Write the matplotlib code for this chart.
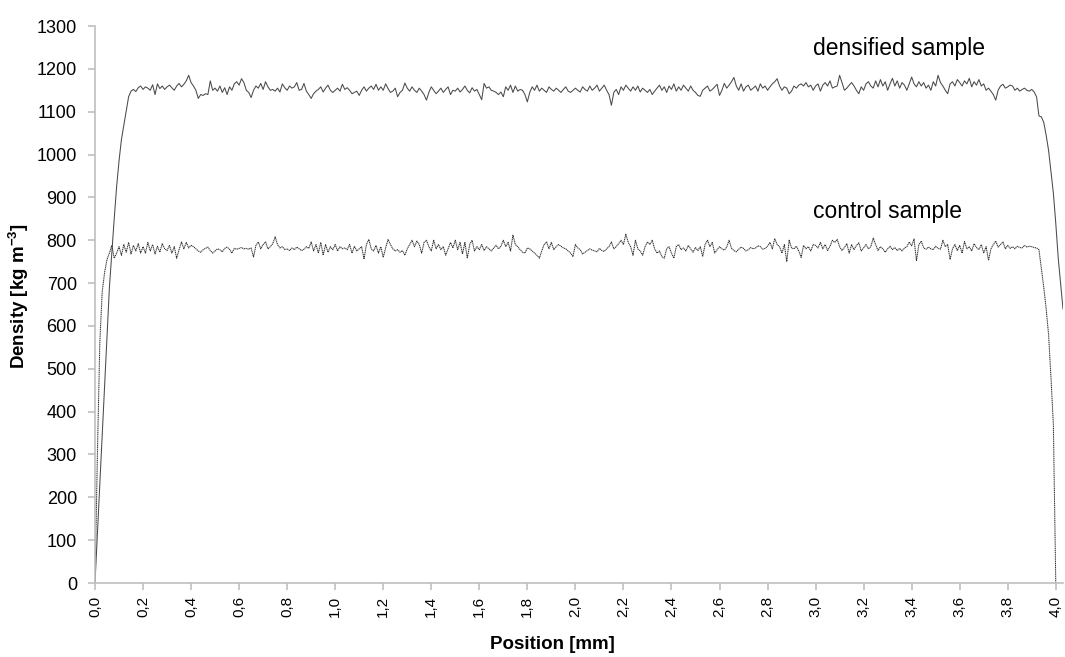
import numpy as np
import matplotlib
matplotlib.use("Agg")
import matplotlib.pyplot as plt

plt.rcParams['font.family'] = ['Liberation Sans', 'DejaVu Sans']

# sampling step along the profile [mm]
step = 0.01

# densified sample, density [kg m-3] every 0.01 mm from 0.00 to 4.03
densified = [
    0, 115, 230, 345, 460, 575, 690, 770, 850, 925, 985, 1035, 1068, 1100, 1135, 1148,
    1152, 1147, 1156, 1160,
    1152, 1158, 1155, 1150, 1163, 1140, 1165, 1154, 1160, 1152, 1158, 1162, 1156, 1150, 1160, 1166, 1158, 1164, 1172, 1185,
    1168, 1160, 1150, 1131, 1140, 1138, 1142, 1140, 1172, 1150, 1155, 1148, 1160, 1145, 1156, 1140, 1158, 1150, 1165, 1170,
    1162, 1177, 1168, 1150, 1145, 1133, 1150, 1160, 1155, 1166, 1152, 1170, 1158, 1150, 1152, 1148, 1155, 1146, 1165, 1156,
    1150, 1160, 1155, 1158, 1168, 1150, 1152, 1166, 1148, 1140, 1131, 1142, 1148, 1152, 1158, 1146, 1155, 1162, 1150, 1145,
    1150, 1155, 1148, 1164, 1152, 1156, 1150, 1142, 1145, 1148, 1138, 1150, 1158, 1148, 1155, 1160, 1152, 1164, 1150, 1158,
    1150, 1165, 1154, 1145, 1148, 1155, 1135, 1145, 1150, 1167, 1155, 1148, 1158, 1150, 1145, 1155, 1148, 1140, 1127, 1145,
    1158, 1150, 1142, 1148, 1155, 1145, 1152, 1158, 1140, 1150, 1148, 1155, 1146, 1152, 1160, 1150, 1144, 1156, 1148, 1152,
    1140, 1128, 1166, 1155, 1158, 1150, 1148, 1145, 1140, 1146, 1135, 1158, 1150, 1162, 1145, 1160, 1148, 1152, 1150, 1140,
    1123, 1145, 1158, 1150, 1162, 1148, 1155, 1150, 1145, 1158, 1152, 1148, 1155, 1150, 1145, 1152, 1158, 1148, 1145, 1150,
    1155, 1150, 1146, 1158, 1152, 1148, 1160, 1150, 1155, 1162, 1148, 1155, 1162, 1150, 1140, 1115, 1145, 1152, 1140, 1158,
    1150, 1162, 1155, 1148, 1158, 1150, 1160, 1146, 1155, 1150, 1145, 1152, 1140, 1148, 1155, 1162, 1150, 1158, 1145, 1160,
    1152, 1165, 1148, 1158, 1150, 1162, 1155, 1148, 1160, 1150, 1145, 1138, 1136, 1150, 1155, 1160, 1148, 1152, 1158, 1164,
    1138, 1150, 1166, 1155, 1162, 1170, 1180, 1160, 1150, 1165, 1148, 1158, 1162, 1150, 1155, 1160, 1148, 1165, 1155, 1160,
    1150, 1158, 1165, 1170, 1177, 1160, 1150, 1158, 1155, 1142, 1148, 1160, 1155, 1162, 1165, 1160, 1168, 1158, 1162, 1150,
    1160, 1165, 1148, 1162, 1168, 1160, 1172, 1155, 1158, 1160, 1185, 1168, 1150, 1155, 1162, 1168, 1160, 1150, 1142, 1158,
    1150, 1165, 1170, 1160, 1155, 1172, 1158, 1175, 1160, 1170, 1150, 1165, 1178, 1160, 1172, 1155, 1168, 1162, 1150, 1165,
    1181, 1165, 1158, 1170, 1160, 1168, 1155, 1162, 1150, 1170, 1160, 1185, 1168, 1160, 1150, 1142, 1165, 1170, 1160, 1175,
    1168, 1160, 1172, 1165, 1178, 1158, 1170, 1162, 1175, 1160, 1165, 1150, 1155, 1148, 1140, 1127, 1150, 1160, 1164, 1155,
    1158, 1162, 1160, 1150, 1155, 1148, 1152, 1155, 1150, 1148, 1152, 1146,
    1135, 1090, 1088, 1075, 1045, 1010, 960, 910, 840, 760, 700, 640,
]

# control sample, density [kg m-3] every 0.01 mm from 0.00 to 4.00
control = [
    0, 300, 560, 680, 725, 755, 770, 788, 758, 770,
    785, 765, 790, 772, 795, 768, 788, 775, 792, 770,
    785, 770, 795, 775, 790, 768, 786, 772, 792, 780, 776, 788, 770, 785, 758, 778, 796, 780, 795, 782,
    788, 785, 780, 775, 772, 778, 781, 784, 776, 770, 775, 780, 778, 773, 781, 784, 779, 770, 781, 779,
    781, 783, 780, 781, 779, 782, 761, 788, 796, 780, 790, 796, 780, 785, 792, 808, 790, 782, 785, 778,
    780, 776, 782, 778, 784, 780, 776, 779, 785, 781, 796, 775, 790, 770, 795, 765, 790, 772, 785, 778,
    790, 775, 785, 780, 782, 778, 790, 770, 786, 775, 780, 785, 756, 790, 802, 780, 775, 788, 770, 785,
    760, 782, 802, 790, 780, 775, 778, 772, 776, 765, 780, 790, 800, 785, 798, 790, 770, 795, 800, 785,
    775, 800, 780, 790, 778, 785, 765, 780, 795, 782, 800, 778, 795, 768, 795, 758, 790, 800, 775, 785,
    778, 790, 776, 785, 780, 775, 782, 788, 780, 786, 800, 785, 795, 775, 812, 790, 785, 778, 772, 770,
    782, 780, 775, 770, 765, 758, 775, 790, 796, 780, 795, 778, 785, 790, 786, 782, 780, 775, 770, 762,
    790, 782, 778, 768, 772, 776, 780, 777, 775, 773, 781, 776, 774, 780, 785, 796, 780, 785, 792, 800,
    790, 814, 795, 785, 765, 800, 780, 775, 765, 785, 796, 790, 800, 780, 770, 775, 762, 758, 780, 785,
    770, 758, 785, 790, 778, 782, 775, 788, 780, 772, 783, 776, 785, 762, 790, 800, 785, 795, 770, 778,
    785, 780, 777, 784, 800, 781, 776, 773, 779, 784, 781, 775, 778, 783, 780, 782, 787, 785, 779, 781,
    786, 795, 780, 804, 790, 785, 770, 790, 750, 800, 782, 780, 786, 775, 760, 788, 780, 785, 775, 790,
    788, 782, 795, 780, 790, 776, 786, 800, 795, 802, 785, 776, 783, 792, 770, 790, 778, 788, 794, 775,
    782, 790, 780, 785, 805, 790, 776, 785, 780, 772, 780, 786, 778, 783, 776, 781, 775, 782, 785, 796,
    787, 803, 752, 790, 798, 782, 779, 784, 780, 778, 786, 781, 779, 800, 785, 790, 755, 780, 790, 776,
    788, 770, 797, 780, 785, 775, 792, 783, 778, 790, 770, 785, 753, 780, 790, 798, 784, 790, 796, 780,
    788, 781, 785, 780, 786, 783, 782, 788, 784, 786, 785, 783, 782, 778,
    735, 690, 640, 580, 480, 370, 0,
]

xticks = [0.0, 0.2, 0.4, 0.6, 0.8, 1.0, 1.2, 1.4, 1.6, 1.8, 2.0,
          2.2, 2.4, 2.6, 2.8, 3.0, 3.2, 3.4, 3.6, 3.8, 4.0]
yticks = list(range(0, 1301, 100))

x_dens = np.arange(len(densified)) * step
x_ctrl = np.arange(len(control)) * step

fig = plt.figure(figsize=(10.65, 6.57), dpi=100)
ax = fig.add_axes([0.0892, 0.1126, 0.9089, 0.8478])

ax.plot(x_dens, densified, color='#4a4a4a', lw=0.75)
ax.plot(x_ctrl, control, color='#303030', lw=0.75, linestyle=(0, (1.2, 0.6)))

ax.set_xlim(0, 4.03)
ax.set_ylim(0, 1300)
ax.set_xticks(xticks)
ax.set_xticklabels([("%.1f" % t).replace('.', ',') for t in xticks], rotation=90, fontsize=11)
ax.set_yticks(yticks)
ax.set_yticklabels([str(t) for t in yticks], fontsize=13)

for s in ['top', 'right']:
    ax.spines[s].set_visible(False)
for s in ['left', 'bottom']:
    ax.spines[s].set_color('#bfbfbf')
    ax.spines[s].set_linewidth(1.2)
ax.tick_params(axis='both', direction='out', length=5, width=1.2, color='#bfbfbf')
ax.tick_params(axis='y', pad=8)
ax.tick_params(axis='x', pad=4)

ax.set_xlabel('Position [mm]', fontsize=13.5, fontweight='bold', ha='center', va='center')
ax.set_ylabel('Density [kg m$^{\\mathregular{-3}}$]', fontsize=13.5, fontweight='bold',
              ha='center', va='center')
ax.xaxis.set_label_coords(0.473, -0.111)
ax.yaxis.set_label_coords(-0.0788, 0.515)

ax.text(2.99, 1248, 'densified sample', fontsize=16.5, va='center', ha='left')
ax.text(2.99, 868, 'control sample', fontsize=16.5, va='center', ha='left')

fig.savefig('out.png', dpi=100)
